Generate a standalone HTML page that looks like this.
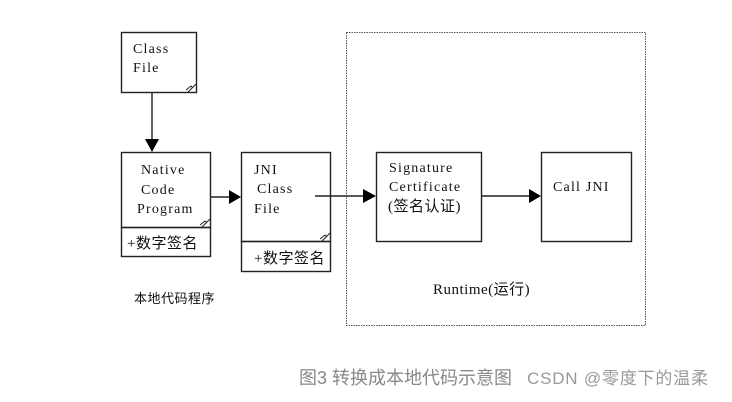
<!DOCTYPE html>
<html><head><meta charset="utf-8"><style>
html,body{margin:0;padding:0;background:#fff;width:732px;height:402px;overflow:hidden}
svg{display:block}
text{font-family:"Liberation Serif","Noto Serif CJK SC",serif;font-size:14px;fill:#111;letter-spacing:1.2px}
.cn{font-family:"Liberation Serif","Noto Sans CJK SC",sans-serif;font-size:15px;letter-spacing:0.5px}
</style></head><body>
<svg width="732" height="402" viewBox="0 0 732 402" xmlns="http://www.w3.org/2000/svg">
<g fill="none" stroke="#222" stroke-width="1.4">
<rect x="346.5" y="32.5" width="299" height="293" stroke="#555" stroke-width="1" stroke-dasharray="1.5,1"/>
<rect x="121.5" y="32.5" width="75" height="60"/>
<rect x="121.5" y="152.5" width="89" height="75"/>
<rect x="121.5" y="227.5" width="89" height="29"/>
<rect x="241.5" y="152.5" width="89" height="89"/>
<rect x="241.5" y="241.5" width="89" height="30"/>
<rect x="376.5" y="152.5" width="105" height="89"/>
<rect x="541.5" y="152.5" width="90" height="89"/>
<line x1="152" y1="92" x2="152" y2="140"/>
<line x1="211" y1="197" x2="230" y2="197"/>
<line x1="315" y1="196" x2="364" y2="196"/>
<line x1="482" y1="196" x2="529" y2="196"/>
<path d="M188 92 L196 84 M186 90 L191 86 L193 88" stroke-width="1"/>
<path d="M202 227 L210 219 M200 225 L205 221 L207 223" stroke-width="1"/>
<path d="M322 241 L330 233 M320 239 L325 235 L327 237" stroke-width="1"/>
</g>
<g fill="#000">
<polygon points="145,139 159,139 152,152"/>
<polygon points="229,190 229,204 241,197"/>
<polygon points="363,189 363,203 376,196"/>
<polygon points="529,189 529,203 541,196"/>
</g>
<text x="133" y="53">Class</text>
<text x="133" y="72">File</text>
<text x="141" y="174">Native</text>
<text x="141" y="194">Code</text>
<text x="137" y="213">Program</text>
<text class="cn" x="127" y="248">+数字签名</text>
<text x="254" y="174">JNI</text>
<text x="257" y="193">Class</text>
<text x="254" y="213">File</text>
<text class="cn" x="254" y="263">+数字签名</text>
<text x="389" y="172">Signature</text>
<text x="389" y="191">Certificate</text>
<text class="cn" x="388" y="211">(签名认证)</text>
<text x="553" y="191">Call JNI</text>
<text class="cn" x="433" y="294">Runtime(运行)</text>
<text class="cn" x="134" y="303" style="font-size:13px">本地代码程序</text>
<text x="299" y="384" style="font-family:'Liberation Sans','Noto Sans CJK SC',sans-serif;font-size:18px;fill:#888;letter-spacing:0">图3 转换成本地代码示意图</text>
<text x="527" y="384" style="font-family:'Liberation Sans','Noto Sans CJK SC',sans-serif;font-size:17px;fill:#999;letter-spacing:0.8px">CSDN @零度下的温柔</text>
</svg>
</body></html>
